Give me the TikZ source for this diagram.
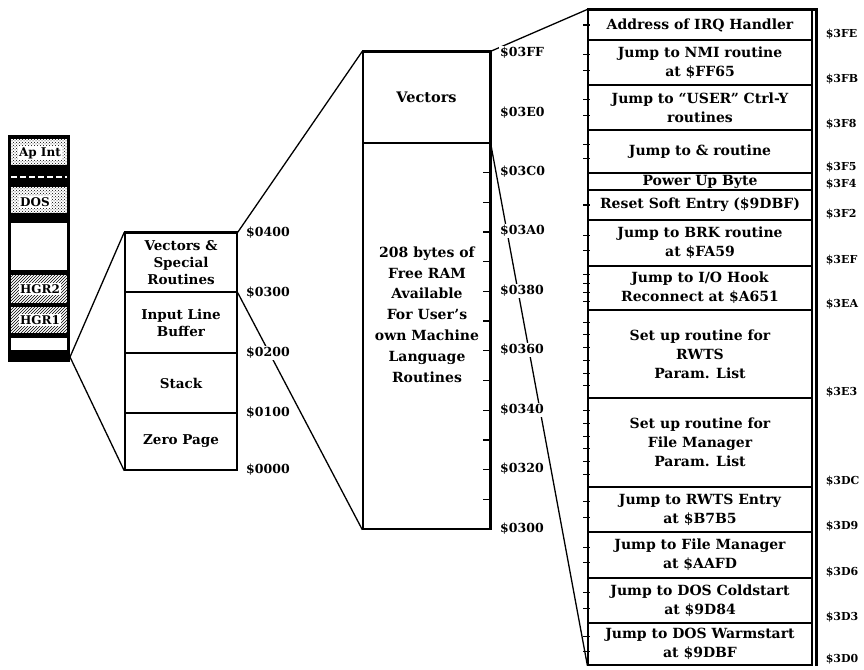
\documentclass[tikz,border=0pt]{standalone}
\usepackage{fontspec}
\setmainfont{DejaVu Serif}
\usetikzlibrary{positioning,
        calc,
        patterns}

\begin{document}
\begin{tikzpicture}[x=1pt,y=-1pt,
        font=\bfseries\fontsize{14}{19}\selectfont,
        cell/.style={draw,line width=1.2pt,minimum width=224pt,align=center,inner sep=0pt},
        blk/.style={draw,line width=1.5pt,minimum width=112pt,align=center,inner sep=0pt,
                font=\bfseries\fontsize{13.5}{17}\selectfont},
        addr/.style={fill=white,inner sep=1pt,anchor=west,font=\bfseries\fontsize{12.5}{12.5}\selectfont},
        saddr/.style={inner sep=0pt,anchor=base west,font=\bfseries\fontsize{11}{11}\selectfont},
        tag/.style={fill=white,inner sep=1pt,font=\bfseries\fontsize{12}{12}\selectfont}]
        \useasboundingbox (0,0) rectangle (864,669);

        % memory strip
        \fill (8,135) rectangle (70,362);
        \path [fill=white,postaction={pattern=crosshatch dots}] (11,139) rectangle (67,165);
        \draw [white,line width=1.6pt,dash pattern=on 6pt off 3pt] (11,177) -- (67,177);
        \path [fill=white,postaction={pattern=crosshatch dots}] (11,187) rectangle (67,213);
        \fill [white] (11,223) rectangle (67,270);
        \path [fill=white,postaction={pattern=north east lines}] (11,275) rectangle (67,303);
        \path [fill=white,postaction={pattern=north east lines}] (11,307) rectangle (67,333);
        \fill [white] (11,338) rectangle (67,350);
        \node [tag] (apint) at (40,153) {Ap Int};
        \node [tag] (dos) at (35,202) {DOS};
        \node [tag] (hgr2) at (40,289) {HGR2};
        \node [tag] (hgr1) at (40,320) {HGR1};
        \coordinate (hinge) at (70,357);

        % page 0 to 3
        \node [blk,minimum height=59pt] (vsr) at (181,262.5) {Vectors \&\\Special\\Routines};
        \node [blk,minimum height=61pt] (ilb) at (181,322.5) {Input Line\\Buffer};
        \node [blk,minimum height=60pt] (stk) at (181,383) {Stack};
        \node [blk,minimum height=57pt] (zp) at (181,441.5) {Zero Page};
        \draw [line width=2.2pt] (vsr.north west) -- (vsr.north east);

        % page 3
        \node [draw,line width=1.4pt,minimum width=127pt,minimum height=91pt,
                font=\bfseries\fontsize{14.5}{19}\selectfont] (vec) at (426.5,97.5) {Vectors};
        \node [draw,line width=1.4pt,minimum width=127pt,minimum height=386pt] (ram) at (426.5,336) {};
        \draw [line width=2.6pt] (vec.north west) -- (vec.north east) -- (ram.south east);
        \node [align=center,font=\bfseries\fontsize{14}{20.8}\selectfont] (free) at (427,314.5)
                {208 bytes of\\Free RAM\\Available\\For User's\\own Machine\\Language\\Routines};
        \foreach \k in {1,...,12}
                \draw [line width=1.3pt] (490,{529-\k*29.7}) -- ++(-7,0);

        % vectors
        \node [cell,minimum height=30pt] (irq) at (700,25) {Address of IRQ Handler};
        \node [cell,minimum height=45pt] (nmi) at (700,62.5) {Jump to NMI routine\\at \$FF65};
        \node [cell,minimum height=45pt] (user) at (700,107.5) {Jump to ``USER'' Ctrl-Y\\routines};
        \node [cell,minimum height=43pt] (amp) at (700,151.5) {Jump to \& routine};
        \node [cell,minimum height=17pt] (pwr) at (700,181.5) {Power Up Byte};
        \node [cell,minimum height=30pt] (rst) at (700,205) {Reset Soft Entry (\$9DBF)};
        \node [cell,minimum height=46pt] (brk) at (700,243) {Jump to BRK routine\\at \$FA59};
        \node [cell,minimum height=44pt] (hook) at (700,288) {Jump to I/O Hook\\Reconnect at \$A651};
        \node [cell,minimum height=88pt] (rwtsp) at (700,354) {Set up routine for\\RWTS\\Param. List};
        \node [cell,minimum height=89pt] (fmp) at (700,442.5) {Set up routine for\\File Manager\\Param. List};
        \node [cell,minimum height=45pt] (rwts) at (700,509.5) {Jump to RWTS Entry\\at \$B7B5};
        \node [cell,minimum height=46pt] (fm) at (700,555) {Jump to File Manager\\at \$AAFD};
        \node [cell,minimum height=45pt] (cold) at (700,600.5) {Jump to DOS Coldstart\\at \$9D84};
        \node [cell,minimum height=42pt] (warm) at (700,644) {Jump to DOS Warmstart\\at \$9DBF};
        \draw [line width=2.6pt] (irq.north west) -- ([xshift=4pt]irq.north east) -- ([xshift=4pt]warm.south east);
        \foreach \r/\n in {irq/2,nmi/3,user/3,amp/3,rst/2,brk/3,hook/5,rwtsp/7,fmp/7,rwts/3,fm/3,cold/3,warm/3} {
                \pgfmathtruncatemacro\m{\n-1}
                \foreach \i in {1,...,\m}
                        \draw [line width=1.1pt] ($(\r.north west)!\i/\n!(\r.south west)$) ++(-4,0) -- ++(7,0);
        }

        \draw [line width=1.3pt] (hinge) -- (vsr.north west);
        \draw [line width=1.3pt] (hinge) -- (zp.south west);
        \draw [line width=1.3pt] (vsr.north east) -- (vec.north west);
        \draw [line width=1.3pt] (vsr.south east) -- (ram.south west);
        \draw [line width=1.3pt] (vec.north east) -- (irq.north west);
        \draw [line width=1.3pt] (vec.south east) -- (warm.south west);

        \node [addr] (a0400) at (245,233) {\$0400};
        \node [addr] (a0300) at (245,293) {\$0300};
        \node [addr] (a0200) at (245,353) {\$0200};
        \node [addr] (a0100) at (245,413) {\$0100};
        \node [addr] (a0000) at (245,470) {\$0000};
        \foreach \a/\y in {03FF/53,03E0/113,03C0/172,03A0/231,0380/291,0360/350,0340/410,0320/469,0300/529}
                \node [addr] (m\a) at (499,\y) {\$\a};
        \foreach \r/\a in {irq/3FE,nmi/3FB,user/3F8,amp/3F5,pwr/3F4,rst/3F2,brk/3EF,hook/3EA,
                rwtsp/3E3,fmp/3DC,rwts/3D9,fm/3D6,cold/3D3,warm/3D0}
                \node [saddr] (s\a) at ($(\r.south east)+(13,-3)$) {\$\a};
\end{tikzpicture}
\end{document}
